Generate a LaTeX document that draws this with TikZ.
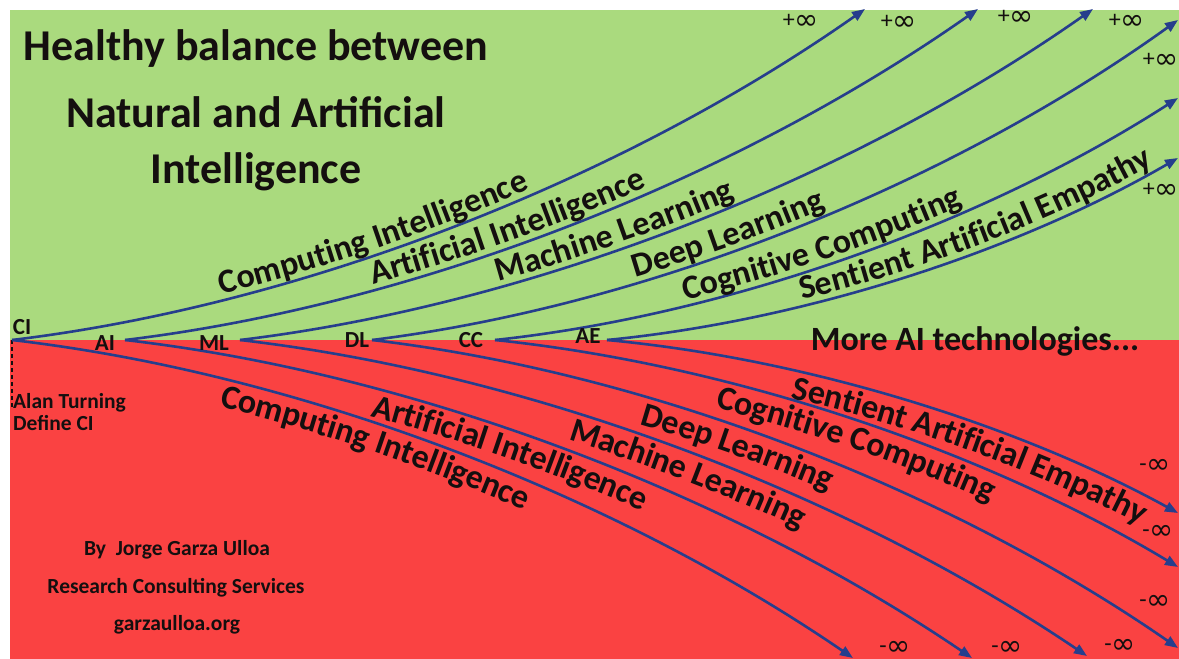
\documentclass[tikz,border=0pt]{standalone}
\usepackage{fontspec}
\setmainfont{Carlito}
\newfontfamily\infface{DejaVu Sans}
\usetikzlibrary{arrows.meta,decorations.text}

\definecolor{fieldgreen}{RGB}{170,218,126}
\definecolor{fieldred}{RGB}{250,66,66}
\definecolor{trend}{RGB}{38,62,140}
\definecolor{ink}{RGB}{20,15,15}

\newcommand{\infsign}{\raisebox{-2pt}{\infface\fontsize{29}{30}\selectfont ∞}}
\newcommand{\curvefont}{\bfseries\fontsize{34}{36}\selectfont}

\begin{document}
\begin{tikzpicture}[x=1pt,y=-1pt,
  trendline/.style={draw=trend, line width=2.6pt, -{Triangle[length=13pt,width=10pt]}},
  risetext/.style 2 args={postaction={decorate, decoration={text along path,
      text={|\curvefont|#1}, text color=ink, raise=6pt,
      text align={left indent=#2}}}},
  falltext/.style 2 args={postaction={decorate, decoration={text along path,
      text={|\curvefont|#1}, text color=ink, raise=-28pt,
      text align={left indent=#2}}}},
  headline/.style={font=\bfseries\fontsize{44}{48}\selectfont, text=ink, anchor=base, inner sep=0pt},
  origin/.style={font=\bfseries\fontsize{23}{26}\selectfont, text=ink, inner sep=0pt},
  limit/.style={font=\fontsize{24}{26}\selectfont, text=ink, inner sep=0pt},
  note/.style={font=\bfseries\fontsize{21.5}{24}\selectfont, text=ink, inner sep=0pt, anchor=base west},
  credit/.style={font=\bfseries\fontsize{21.5}{24}\selectfont, text=ink, inner sep=0pt, anchor=base}
]
\useasboundingbox (0,0) rectangle (1179,659);
\clip (0,0) rectangle (1179,659);

% background: natural (green) above the axis, artificial (red) below
\fill[white] (0,0) rectangle (1179,659);
\fill[fieldgreen] (10,10) rectangle (1179,340);
\fill[fieldred] (10,340) rectangle (1179,659);

% starting points on the axis
\coordinate (CI) at (12,340);
\coordinate (AI) at (125,340);
\coordinate (ML) at (240,340);
\coordinate (DL) at (372,340);
\coordinate (CC) at (495,340);
\coordinate (AE) at (607,340);
\coordinate (turingend) at (12,408);

% ends of the upward trends
\coordinate (up1) at (865,9);
\coordinate (up2) at (978,9);
\coordinate (up3) at (1093,9);
\coordinate (up4) at (1178,20);
\coordinate (up5) at (1178,98);
\coordinate (up6) at (1178,158);

% ends of the downward trends
\coordinate (dn1) at (853,658);
\coordinate (dn2) at (972,658);
\coordinate (dn3) at (1087,656);
\coordinate (dn4) at (1178,648);
\coordinate (dn5) at (1178,567);
\coordinate (dn6) at (1178,513);

% Alan Turing marker
\draw[ink, line width=2pt, dash pattern=on 4pt off 3pt] (CI) -- (turingend);

% upward trends
\draw[trendline, risetext={Computing Intelligence}{215pt}]
  (CI) .. controls +(290,-35) and +(-245,172) .. (up1);
\draw[trendline, risetext={Artificial Intelligence}{255pt}]
  (AI) .. controls +(290,-35) and +(-245,172) .. (up2);
\draw[trendline, risetext={Machine Learning}{266pt}]
  (ML) .. controls +(290,-35) and +(-245,172) .. (up3);
\draw[trendline, risetext={Deep Learning}{272pt}]
  (DL) .. controls +(274,-34) and +(-231,166) .. (up4);
\draw[trendline, risetext={Cognitive Computing}{195pt}]
  (CC) .. controls +(232,-25) and +(-196,126) .. (up5);
\draw[trendline, risetext={Sentient Artificial Empathy}{200pt}]
  (AE) .. controls +(194,-19) and +(-164,95) .. (up6);

% downward trends
\draw[trendline, falltext={Computing Intelligence}{218pt}]
  (CI) .. controls +(286,33) and +(-241,-165) .. (dn1);
\draw[trendline, falltext={Artificial Intelligence}{258pt}]
  (AI) .. controls +(288,33) and +(-243,-165) .. (dn2);
\draw[trendline, falltext={Machine Learning}{345pt}]
  (ML) .. controls +(288,33) and +(-243,-164) .. (dn3);
\draw[trendline, falltext={Deep Learning}{282pt}]
  (DL) .. controls +(274,32) and +(-231,-160) .. (dn4);
\draw[trendline, falltext={Cognitive Computing}{231pt}]
  (CC) .. controls +(232,24) and +(-196,-118) .. (dn5);
\draw[trendline, falltext={Sentient Artificial Empathy}{193pt}]
  (AE) .. controls +(194,18) and +(-164,-90) .. (dn6);

% title
\node[headline] (head1) at (256,60) {Healthy balance between};
\node[headline] (head2) at (256,127) {Natural and Artificial};
\node[headline] (head3) at (256,183) {Intelligence};

% axis labels
\node[origin] (tCI) at (22,327) {CI};
\node[origin] (tAI) at (105,343) {AI};
\node[origin] (tML) at (214,343) {ML};
\node[origin] (tDL) at (357,340) {DL};
\node[origin] (tCC) at (471,340) {CC};
\node[origin] (tAE) at (588,336) {AE};

\node[font=\curvefont, text=ink, inner sep=0pt, anchor=base] (more) at (975,350) {More AI technologies...};

\node[note] (turing1) at (13,408) {Alan Turning};
\node[note] (turing2) at (13,430) {Define CI};

\node[credit] (by) at (177,555) {By\ \ Jorge Garza Ulloa};
\node[credit] (firm) at (176,593) {Research Consulting Services};
\node[credit] (web) at (177,630) {garzaulloa.org};

% limits
\node[limit] (p1) at (801,22) {+\infsign};
\node[limit] (p2) at (899,23) {+\infsign};
\node[limit] (p3) at (1016,18) {+\infsign};
\node[limit] (p4) at (1127,22) {+\infsign};
\node[limit] (p5) at (1161,61) {+\infsign};
\node[limit] (p6) at (1161,191) {+\infsign};

\node[limit] (m1) at (895,648) {-\infsign};
\node[limit] (m2) at (1007,648) {-\infsign};
\node[limit] (m3) at (1120,646) {-\infsign};
\node[limit] (m4) at (1155,602) {-\infsign};
\node[limit] (m5) at (1158,532) {-\infsign};
\node[limit] (m6) at (1155,466) {-\infsign};
\end{tikzpicture}
\end{document}
